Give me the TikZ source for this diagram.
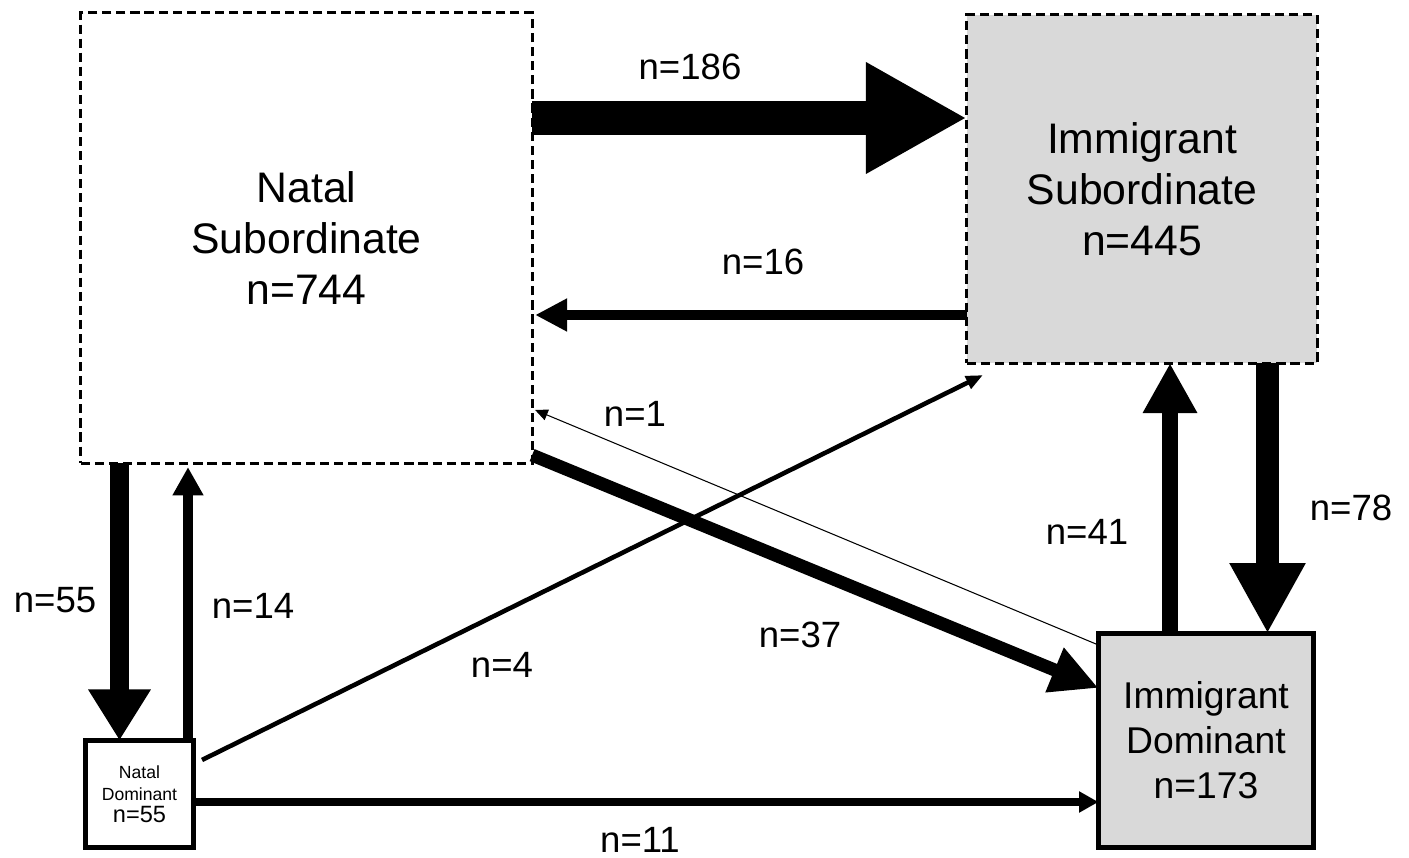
\documentclass[tikz,border=0pt]{standalone}
\usepackage{fontspec}
\setmainfont{Liberation Sans}
\usetikzlibrary{arrows.meta, calc}
\definecolor{boxgray}{RGB}{217,217,217}
\tikzstyle{subbox} = [draw, line width=0.85pt, dash pattern=on 2.6pt off 1.4pt, align=center, inner sep=0pt, outer sep=0pt, font=\fontsize{12.15}{14.5}\selectfont]
\tikzstyle{dombox} = [draw, line width=1.4pt, fill=boxgray, align=center, inner sep=0pt, outer sep=0pt]
\tikzstyle{count} = [font=\fontsize{10.4}{12}\selectfont]
\tikzset{flow/.style n args={3}{line width=#1, -{Triangle[length=#2, width=#3]}}}

\begin{document}
\begin{tikzpicture}[x=0.01cm, y=-0.01cm]
	\useasboundingbox (0,0) rectangle (1409,858);
	% groups
	\node[subbox, minimum width=4.51cm, minimum height=4.50cm] (natsub) at (306.5,238) {Natal\\Subordinate\\n=744};
	\node[subbox, fill=boxgray, minimum width=3.50cm, minimum height=3.48cm] (immsub) at (1142,189) {Immigrant\\Subordinate\\n=445};
	\node[dombox, minimum width=2.15cm, minimum height=2.14cm, font=\fontsize{10.6}{12.8}\selectfont] (immdom) at (1206,740.5) {Immigrant\\Dominant\\n=173};
	\node[dombox, fill=white, minimum width=1.08cm, minimum height=1.07cm, font=\fontsize{5}{6.3}\selectfont] (natdom) at (139.5,794) {Natal\\Dominant\\{\fontsize{6.7}{5.7}\selectfont n=55}};
	% transitions
	\draw[flow={9.7pt}{28.7pt}{29.6pt}] ($(natsub.east)+(0,-120)$) -- ($(immsub.west)+(0,-71)$);
	\draw[flow={2.85pt}{9.1pt}{8.8pt}] ($(immsub.west)+(0,126)$) -- ($(natsub.east)+(3,77)$);
	\draw[flow={0.3pt}{3.6pt}{3.2pt}] ($(immdom.north west)+(1,12)$) -- ($(natsub.east)+(3,172)$);
	\draw[flow={3.7pt}{13.5pt}{12.8pt}] ($(natsub.south east)+(0,-8)$) -- ($(immdom.west)+(0,-52.5)$);
	\draw[flow={1.3pt}{4.8pt}{3.8pt}] ($(natdom.north east)+(8.5,19.5)$) -- ($(immsub.south west)+(16,12)$);
	\draw[flow={5.4pt}{14.5pt}{16.8pt}] ($(natsub.south)+(-187,0)$) -- ($(natdom.north)+(-20,0)$);
	\draw[flow={2.85pt}{8pt}{8.25pt}] ($(natdom.north)+(48.5,0)$) -- ($(natsub.south)+(-118.5,4)$);
	\draw[flow={2pt}{5.5pt}{5.7pt}] ($(natdom.east)+(0,8)$) -- ($(immdom.west)+(0,61.5)$);
	\draw[flow={4.55pt}{14.2pt}{14.5pt}] ($(immdom.north)+(-36,0)$) -- ($(immsub.south)+(28,0)$);
	\draw[flow={6.5pt}{20pt}{20.2pt}] ($(immsub.south)+(125.5,0)$) -- ($(immdom.north)+(61.5,0)$);
	% counts
	\node[count] (c186) at (690,67) {n=186};
	\node[count] (c16) at (763,262) {n=16};
	\node[count] (c1) at (635,414) {n=1};
	\node[count] (c37) at (800,635) {n=37};
	\node[count] (c4) at (502,665) {n=4};
	\node[count] (c41) at (1087,532) {n=41};
	\node[count] (c78) at (1351,508) {n=78};
	\node[count] (c55) at (55,600) {n=55};
	\node[count] (c14) at (253,606) {n=14};
	\node[count] (c11) at (640,840) {n=11};
\end{tikzpicture}
\end{document}
